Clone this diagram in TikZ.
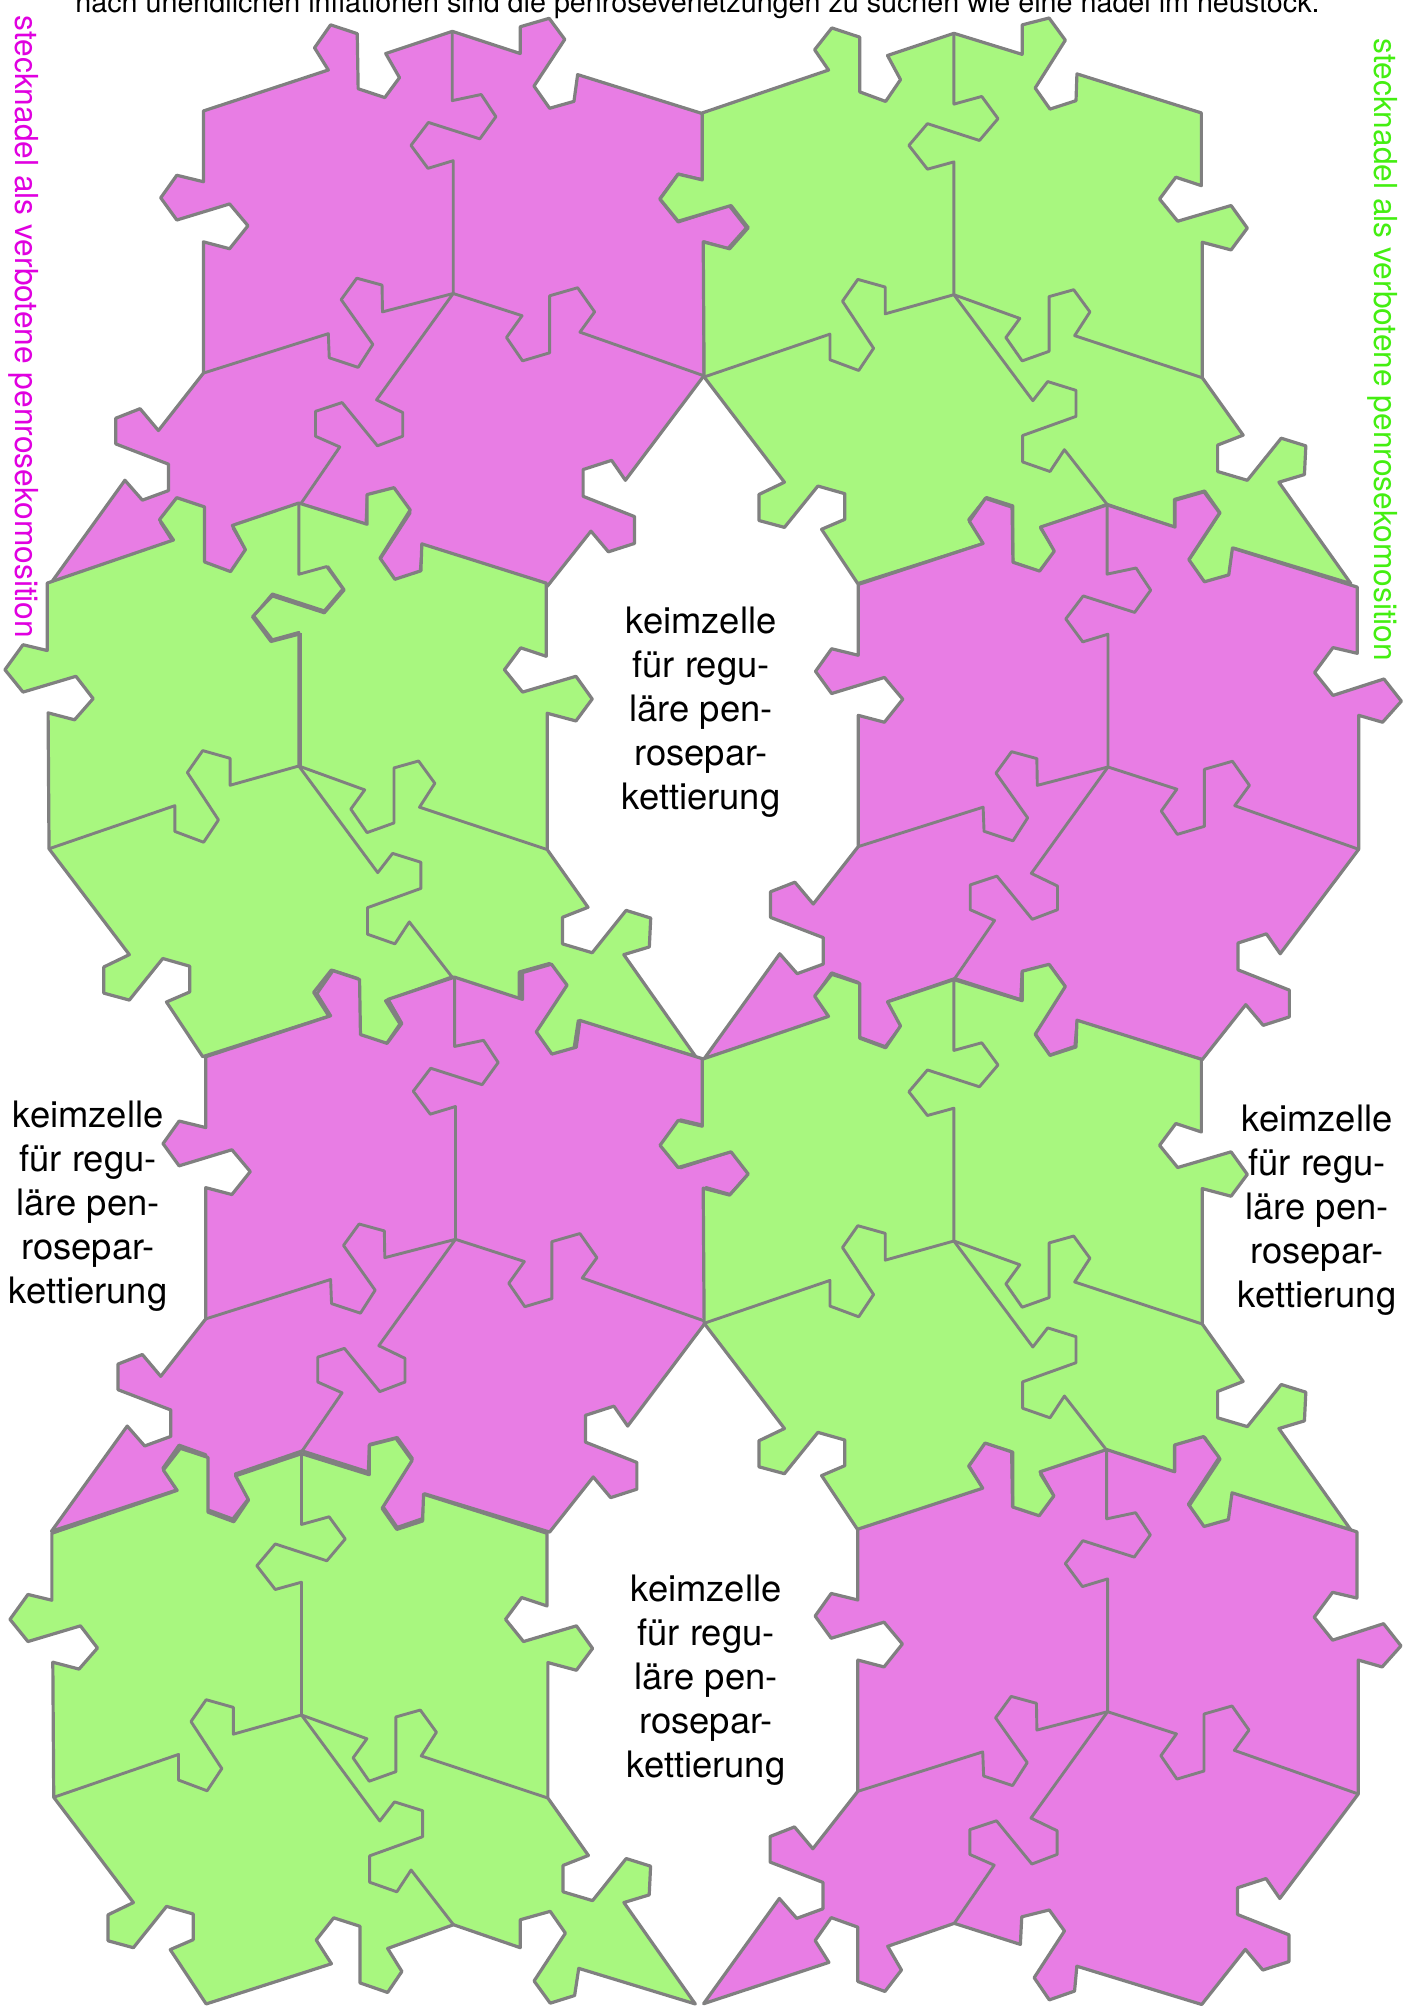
\documentclass[tikz,border=0pt]{standalone}
\usepackage{fontspec}
\setmainfont{TeX Gyre Heros}
\definecolor{pur}{HTML}{E87DE4}
\definecolor{grn}{HTML}{A8F77F}
\definecolor{edge}{HTML}{808080}
\definecolor{maglabel}{HTML}{E000E0}
\definecolor{grnlabel}{HTML}{44EE11}
\tikzset{
  tile/.style={draw=edge,line width=1.6pt,line join=round},
  seam/.style={draw=edge,line width=1.45pt,line join=round},
  seed/.style={align=center,font=\fontsize{18.2}{22}\selectfont,text=black},
  sidelabel/.style={font=\fontsize{15.85}{18}\selectfont,rotate=-90,anchor=base west,inner sep=0pt},
}
% type A patch, numbers are in zoom units
\newcommand\patchA[3]{%
\begin{scope}[shift={(#1,#2)},x=0.22957pt,y=-0.19135pt,shift={(-987,-767)}]
\path[tile,fill=#3] (985,82) -- (1133,140) -- (1133,70) -- (1196,48) -- (1230,103) -- (1163,225) -- (1197,283) -- (1250,265) -- (1258,195) -- (1530,297)
 -- (1530,470) -- (1477,455) -- (1437,520) -- (1477,580) -- (1588,537) -- (1626,595) -- (1585,650) -- (1533,632) -- (1533,982)
 -- (1362,1255) -- (1332,1203) -- (1270,1227) -- (1270,1297) -- (1382,1350) -- (1382,1420) -- (1325,1442) -- (1287,1388) -- (1192,1532)
 -- (920,1432) -- (915,1497) -- (860,1520) -- (827,1462) -- (893,1340) -- (860,1285) -- (800,1303) -- (797,1375) -- (653,1320)
 -- (508,1380) -- (538,1442) -- (502,1498) -- (443,1472) -- (443,1330) -- (385,1305) -- (350,1365) -- (380,1422) -- (107,1530)
 -- (272,1255) -- (310,1307) -- (367,1282) -- (367,1213) -- (252,1160) -- (252,1093) -- (305,1068) -- (345,1125) -- (443,975)
 -- (443,632) -- (500,650) -- (540,590) -- (500,533) -- (385,575) -- (350,517) -- (385,458) -- (443,475) -- (443,290)
 -- (715,183) -- (685,125) -- (720,65) -- (778,88) -- (780,232) -- (838,255) -- (870,203) -- (840,140) -- cycle;
\path[seam] (985,82) -- (985,263) -- (1048,247) -- (1080,305) -- (1045,363) -- (933,320) -- (895,380) -- (932,440) -- (987,420) -- (987,767);
\path[seam] (987,767) -- (833,815) -- (832,745) -- (777,727) -- (743,783) -- (812,900) -- (780,960) -- (717,935) -- (715,872) -- (443,975);
\path[seam] (987,767) -- (1137,825) -- (1103,882) -- (1138,943) -- (1197,922) -- (1197,773) -- (1258,752) -- (1295,815) -- (1263,868) -- (1533,982);
\path[seam] (987,767) -- (820,1045) -- (877,1078) -- (877,1140) -- (822,1165) -- (745,1052) -- (687,1075) -- (687,1140) -- (740,1168) -- (653,1320);
\end{scope}}
% type B patch: #4 and #5 stretch it about its centre
\newcommand\patchB[5]{%
\begin{scope}[shift={(#1,#2)},x=#4*0.23213pt,y=-#5*0.19135pt,shift={(-590,-770)}]
\path[tile,fill=#3] (590,87) -- (737,142) -- (737,65) -- (795,47) -- (830,105) -- (765,230) -- (797,285) -- (853,263) -- (855,193) -- (1123,295)
 -- (1123,485) -- (1068,463) -- (1033,520) -- (1072,578) -- (1187,537) -- (1222,596) -- (1187,653) -- (1125,633) -- (1125,987)
 -- (1213,1137) -- (1158,1163) -- (1158,1232) -- (1222,1255) -- (1295,1145) -- (1348,1165) -- (1345,1240) -- (1290,1260) -- (1445,1525)
 -- (1192,1432) -- (1183,1503) -- (1130,1523) -- (1095,1465) -- (1163,1340) -- (1130,1283) -- (1065,1305) -- (1065,1378) -- (920,1318)
 -- (777,1380) -- (808,1440) -- (777,1495) -- (717,1470) -- (717,1322) -- (660,1300) -- (622,1358) -- (655,1420) -- (383,1525)
 -- (305,1383) -- (355,1357) -- (355,1290) -- (297,1270) -- (225,1378) -- (170,1360) -- (170,1292) -- (225,1260) -- (52,985)
 -- (50,632) -- (107,650) -- (147,595) -- (110,537) -- (-4,578) -- (-43,520) -- (-4,455) -- (48,470) -- (48,295)
 -- (320,183) -- (290,130) -- (327,73) -- (387,97) -- (387,240) -- (443,265) -- (475,208) -- (447,145) -- cycle;
\path[seam] (590,87) -- (590,272) -- (650,252) -- (685,310) -- (645,367) -- (533,323) -- (493,380) -- (533,442) -- (590,423) -- (590,770);
\path[seam] (590,770) -- (442,820) -- (442,750) -- (383,730) -- (350,787) -- (417,910) -- (385,968) -- (323,940) -- (323,873) -- (52,985);
\path[seam] (590,770) -- (732,832) -- (702,882) -- (737,943) -- (795,918) -- (795,775) -- (848,757) -- (883,815) -- (850,877) -- (1125,987);
\path[seam] (590,770) -- (760,1047) -- (792,997) -- (853,1020) -- (853,1088) -- (738,1138) -- (738,1207) -- (797,1232) -- (828,1175) -- (920,1318);
\end{scope}}
% the doubled centre seam of the second green patch
\newcommand\doubleseam[2]{%
\begin{scope}[shift={(#1,#2)},x=0.23213pt,y=-0.19135pt,shift={(-590,-770)}]
\path[seam] (594,423) -- (594,770);
\path[seam] (652,248) -- (688,310) -- (645,370) -- (533,326) -- (490,380) -- (530,445) -- (590,426);
\end{scope}}
\begin{document}
\begin{tikzpicture}[x=0.5pt,y=-0.5pt]
\useasboundingbox (0,0) rectangle (1408,2006);
\clip (0,0) rectangle (1408,2006);
\patchA{453.2}{293.5}{pur}
\patchB{953.9}{294.7}{grn}{1}{1}
\patchB{298.8}{766}{grn}{1}{1.006}
\doubleseam{298.8}{766}
\patchA{1108}{767}{pur}
\patchA{455.5}{1239.3}{pur}
\patchB{953.9}{1241}{grn}{1}{1}
\patchB{301.5}{1715}{grn}{0.992}{1}
\patchA{1107.6}{1711.7}{pur}
\node[anchor=base west,inner sep=0pt,font=\fontsize{14.35}{18}\selectfont] (head) at (75,13) {nach unendlichen inflationen sind die penroseverletzungen zu suchen wie eine nadel im heustock.};
\node[sidelabel,text=maglabel] (left) at (16,15) {stecknadel als verbotene penrosekomosition};
\node[sidelabel,text=grnlabel] (right) at (1374,38) {stecknadel als verbotene penrosekomosition};
\node[seed] (k1) at (701,712) {keimzelle\\für regu-\\läre pen-\\rosepar-\\kettierung};
\node[seed] (k2) at (88,1206) {keimzelle\\für regu-\\läre pen-\\rosepar-\\kettierung};
\node[seed] (k3) at (1317,1210) {keimzelle\\für regu-\\läre pen-\\rosepar-\\kettierung};
\node[seed] (k4) at (706,1680) {keimzelle\\für regu-\\läre pen-\\rosepar-\\kettierung};
\end{tikzpicture}
\end{document}
